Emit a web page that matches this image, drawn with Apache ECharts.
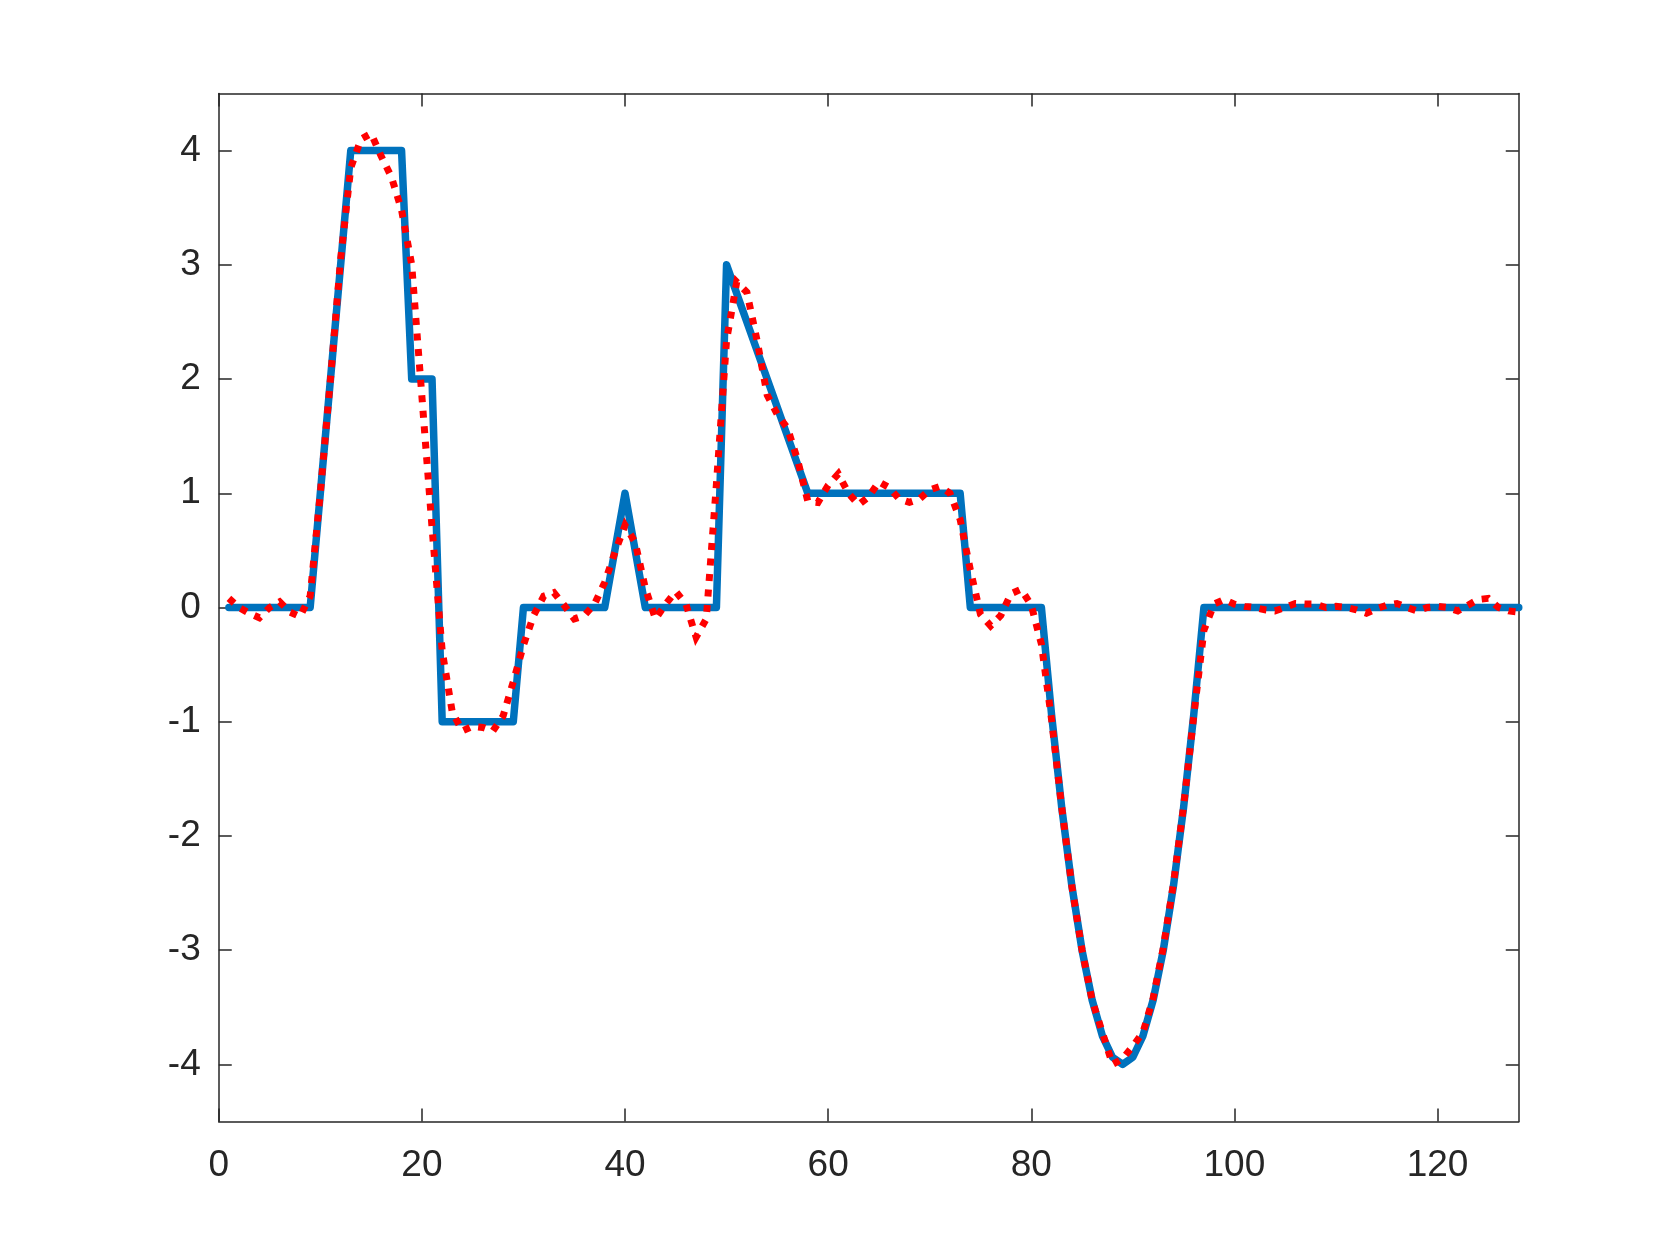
<!DOCTYPE html>
<html>
<head>
<meta charset="utf-8">
<script src="https://cdn.jsdelivr.net/npm/echarts@6/dist/echarts.min.js"></script>
<style>
  html, body { margin: 0; padding: 0; background: #ffffff; }
  #chart { width: 1680px; height: 1260px; }
</style>
</head>
<body>
<div id="chart"></div>
<script>
// Sample positions 1..128
const sampleCount = 128;
// Original signal (blue, solid)
const blueValues = [
  0, 0, 0, 0, 0, 0, 0, 0, 0,
  1, 2, 3, 4, 4, 4, 4, 4, 4,
  2, 2, 2,
  -1, -1, -1, -1, -1, -1, -1, -1,
  0, 0, 0, 0, 0, 0, 0, 0, 0,
  0.5, 1, 0.5,
  0, 0, 0, 0, 0, 0, 0, 0,
  3, 2.75, 2.5, 2.25, 2, 1.75, 1.5, 1.25, 1,
  1, 1, 1, 1, 1, 1, 1, 1, 1, 1, 1, 1, 1, 1, 1,
  0, 0, 0, 0, 0, 0, 0, 0,
  -0.9375, -1.75, -2.4375, -3, -3.4375, -3.75, -3.9375, -4, -3.9375, -3.75, -3.4375, -3, -2.4375, -1.75, -0.9375,
  0, 0, 0, 0, 0, 0, 0, 0, 0, 0, 0, 0, 0, 0, 0, 0,
  0, 0, 0, 0, 0, 0, 0, 0, 0, 0, 0, 0, 0, 0, 0, 0
];
// Reconstructed signal (red, dotted)
const redValues = [
  0.08, 0.0, -0.05, -0.09, 0.0, 0.05, -0.04, -0.08, 0.1, 1.0,
  2.0, 3.05, 3.85, 4.1, 4.15, 3.95, 3.77, 3.48, 3.0, 1.85,
  0.7, -0.38, -0.92, -1.08, -1.04, -1.05, -1.08, -0.95, -0.65, -0.33,
  -0.07, 0.1, 0.13, 0.02, -0.1, -0.07, 0.03, 0.22, 0.48, 0.72,
  0.57, 0.17, -0.1, 0.03, 0.14, 0.03, -0.26, -0.1, 1.08, 2.34,
  2.85, 2.76, 2.34, 1.86, 1.69, 1.57, 1.29, 0.93, 0.92, 1.07,
  1.17, 1.0, 0.9, 0.97, 1.1, 1.05, 0.95, 0.92, 0.95, 1.03,
  1.06, 1.0, 0.77, 0.33, -0.06, -0.16, -0.07, 0.12, 0.16, 0.02,
  -0.32, -0.98, -1.75, -2.44, -3.0, -3.44, -3.72, -4.0, -3.95, -3.84,
  -3.72, -3.42, -2.98, -2.42, -1.74, -0.95, -0.2, 0.03, 0.07, 0.03,
  0.01, 0.0, -0.02, -0.03, 0.0, 0.035, 0.03, 0.03, 0.0, 0.01,
  0.0, -0.02, -0.05, -0.01, 0.02, 0.035, 0.0, -0.03, 0.0, 0.01,
  0.0, -0.03, 0.02, 0.07, 0.08, 0.0, -0.03, -0.04
];
const xTicks = [0, 20, 40, 60, 80, 100, 120];
const yTicks = [-4, -3, -2, -1, 0, 1, 2, 3, 4];

const xs = Array.from({ length: sampleCount }, (_, i) => i + 1);
const blueData = xs.map((x, i) => [x, blueValues[i]]);
const redData = xs.map((x, i) => [x, redValues[i]]);

const axisColor = '#262626';
const fontFamily = '"Liberation Sans", Arial, Helvetica, sans-serif';

function xAxisDef(pos, showLabels) {
  return {
    type: 'value', position: pos, min: 0, max: 128,
    axisLine: { show: true, onZero: false, lineStyle: { color: axisColor, width: 1.5 } },
    axisTick: { show: true, inside: true, length: 13, customValues: xTicks, lineStyle: { color: axisColor, width: 1.5 } },
    axisLabel: { show: showLabels, customValues: xTicks, margin: 26, color: axisColor, fontSize: 37, fontFamily: fontFamily },
    splitLine: { show: false }
  };
}
function yAxisDef(pos, showLabels) {
  return {
    type: 'value', position: pos, min: -4.5, max: 4.5,
    axisLine: { show: true, onZero: false, lineStyle: { color: axisColor, width: 1.5 } },
    axisTick: { show: true, inside: true, length: 13, customValues: yTicks, lineStyle: { color: axisColor, width: 1.5 } },
    axisLabel: { show: showLabels, customValues: yTicks, margin: 18, color: axisColor, fontSize: 37, fontFamily: fontFamily },
    splitLine: { show: false }
  };
}

const chart = echarts.init(document.getElementById('chart'), null, { renderer: 'canvas' });
chart.setOption({
  animation: false,
  backgroundColor: '#ffffff',
  grid: { left: 218.75, right: 161.25, top: 93.5, bottom: 138.5, containLabel: false },
  xAxis: [xAxisDef('bottom', true), xAxisDef('top', false)],
  yAxis: [yAxisDef('left', true), yAxisDef('right', false)],
  series: [
    {
      type: 'line', data: blueData, xAxisIndex: 0, yAxisIndex: 0,
      showSymbol: false, symbol: 'none',
      lineStyle: { color: '#0072BD', width: 7.5, join: 'round', cap: 'round' },
      z: 2
    },
    {
      type: 'line', data: redData, xAxisIndex: 0, yAxisIndex: 0,
      showSymbol: false, symbol: 'none',
      lineStyle: { color: '#FF0000', width: 7, type: [7, 8.5], cap: 'butt', join: 'miter' },
      z: 3
    }
  ]
});
</script>
</body>
</html>
